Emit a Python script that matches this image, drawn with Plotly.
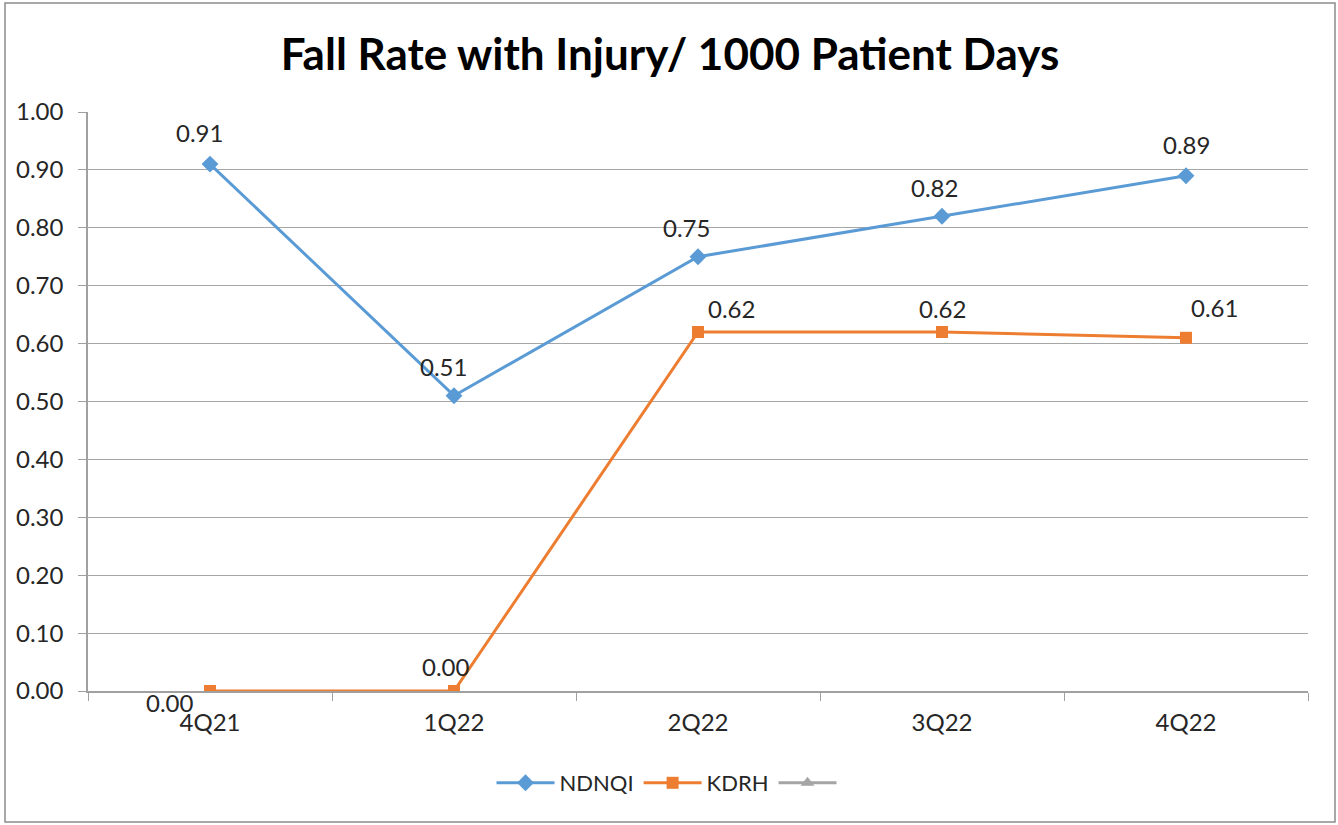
import plotly.graph_objects as go

quarters = ["4Q21", "1Q22", "2Q22", "3Q22", "4Q22"]
ndnqi = [0.91, 0.51, 0.75, 0.82, 0.89]
kdrh = [0.00, 0.00, 0.62, 0.62, 0.61]

# label offsets (pixels) for data labels
nd_off = [(-11, 32), (-11, 29), (-12, 29), (-8, 29), (0, 31)]
kd_off = [(-40, -11), (-8, 25), (33, 24), (0, 24), (28, 30)]

FONT = "Lato, 'Open Sans', sans-serif"
BLUE = "#5B9BD5"
ORANGE = "#ED7D31"
GRAY = "#A5A5A5"
TXT = "#262626"

fig = go.Figure()
fig.add_trace(go.Scatter(x=quarters, y=ndnqi, name="NDNQI", mode="lines+markers",
                         line=dict(color=BLUE, width=3),
                         marker=dict(symbol="diamond", size=13, color=BLUE)))
fig.add_trace(go.Scatter(x=quarters, y=kdrh, name="KDRH", mode="lines+markers",
                         line=dict(color=ORANGE, width=3),
                         marker=dict(symbol="square", size=12, color=ORANGE)))
fig.add_trace(go.Scatter(x=[None], y=[None], name=" ", mode="lines+markers",
                         line=dict(color=GRAY, width=3),
                         marker=dict(symbol="triangle-up", size=12, color=GRAY)))

for vals, offs in ((ndnqi, nd_off), (kdrh, kd_off)):
    for q, v, (dx, dy) in zip(quarters, vals, offs):
        fig.add_annotation(x=q, y=v, text=f"{v:.2f}", showarrow=False,
                           xshift=dx, yshift=dy,
                           font=dict(family=FONT, size=24, color=TXT))

L, R, T, B = 88, 1308, 112, 691
W, H = 1338, 825
pw, ph = R - L, B - T
fig.add_shape(type="rect", xref="paper", yref="paper",
              x0=(5 - L) / pw, x1=(1335 - L) / pw,
              y0=(B - 822) / ph, y1=(B - 3) / ph,
              line=dict(color="#8c8c8c", width=1.5), layer="below")

fig.update_layout(
    width=W, height=H,
    margin=dict(l=L, r=W - R, t=T, b=H - B),
    paper_bgcolor="white", plot_bgcolor="white",
    title=dict(text="<b>Fall Rate with Injury/ 1000 Patient Days</b>",
               x=670 / W, xref="container", xanchor="center",
               y=(H - 55) / H, yanchor="middle",
               font=dict(family=FONT, size=44, color="black")),
    font=dict(family=FONT, size=24, color=TXT),
    showlegend=True,
    legend=dict(orientation="h", x=(672 - L) / pw, xanchor="center", y=(B - 783) / ph,
                yanchor="middle", itemwidth=58,
                font=dict(family=FONT, size=22, color=TXT)),
    xaxis=dict(type="category", range=[-0.5, 4.5], tickson="boundaries",
               ticks="outside", ticklen=8, tickcolor="#a0a0a0",
               showline=True, linecolor="#a0a0a0", linewidth=1.5,
               showgrid=False, ticklabelstandoff=9,
               tickfont=dict(family=FONT, size=24, color=TXT)),
    yaxis=dict(range=[0, 1.0], dtick=0.1, tickformat=".2f",
               ticks="outside", ticklen=8, tickcolor="#a0a0a0",
               showline=True, linecolor="#a0a0a0", linewidth=1.5,
               showgrid=True, gridcolor="#a6a6a6", gridwidth=1,
               zeroline=False, ticklabelstandoff=10,
               tickfont=dict(family=FONT, size=24, color=TXT)),
)

fig.write_html("out.html", config={"displayModeBar": False},
               post_script="document.body.style.margin='0';")
